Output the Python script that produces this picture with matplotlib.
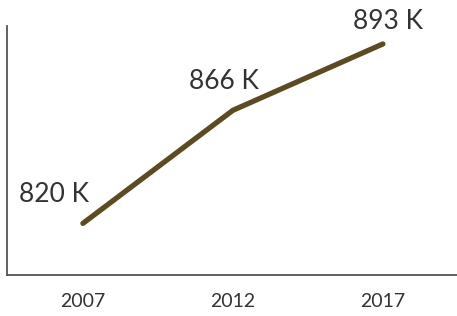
import matplotlib
matplotlib.use("Agg")
import matplotlib.pyplot as plt

years = [2007, 2012, 2017]
values = [820, 866, 893]
labels = ["820 K", "866 K", "893 K"]
tick_labels = ["2007", "2012", "2017"]

plt.rcParams['font.family'] = ['Lato', 'DejaVu Sans']

fig = plt.figure(figsize=(4.57, 3.16), dpi=100)
ax = fig.add_axes([7/457, 41/316, 450/457, 249/316])
ax.plot(years, values, color='#5c4a22', lw=3.8, solid_capstyle='round', solid_joinstyle='round')

offsets = [(-29, 29), (-9, 29), (5, 22)]
for x, y, t, off in zip(years, values, labels, offsets):
    ax.annotate(t, (x, y), xytext=off, textcoords='offset pixels', ha='center', va='center',
                fontsize=19, color='#333333')

ax.set_xlim(2004.47, 2019.47)
ax.set_ylim(799, 900.3)
ax.set_xticks(years)
ax.set_xticklabels(tick_labels, fontsize=14, color='#333333')
ax.set_yticks([])
ax.tick_params(axis='x', length=0, pad=13)
for s in ['top', 'right']:
    ax.spines[s].set_visible(False)
for s in ['left', 'bottom']:
    ax.spines[s].set_color('#555555')
    ax.spines[s].set_linewidth(1.3)

fig.savefig('out.png', dpi=100)
